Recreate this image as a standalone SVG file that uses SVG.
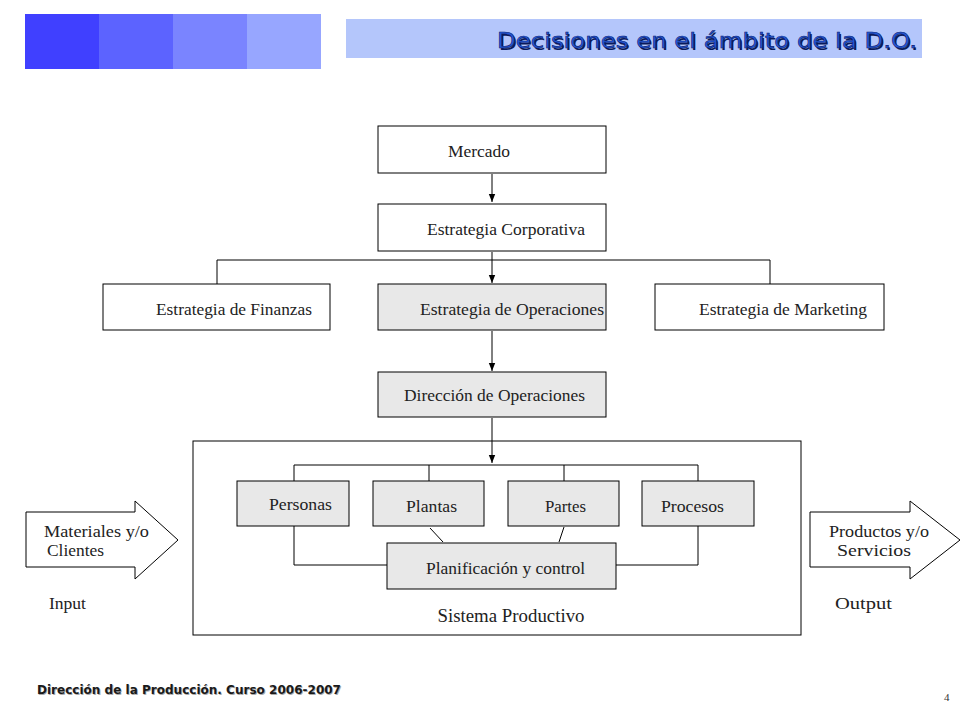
<svg xmlns="http://www.w3.org/2000/svg" width="960" height="720" viewBox="0 0 960 720">
<style>
.box{fill:#ffffff;stroke:#000;stroke-width:1}
.gray{fill:#e8e8e8;stroke:#000;stroke-width:1}
.t{font-family:"Liberation Serif","Times New Roman",serif;font-size:17px;fill:#222}
.ln{fill:none;stroke:#000;stroke-width:1}
</style>
<defs>
<marker id="ah" viewBox="0 0 10 10" refX="10" refY="5" markerWidth="8" markerHeight="8" orient="auto" markerUnits="userSpaceOnUse">
<path d="M0,1 L10,5 L0,9 z" fill="#000"/>
</marker>
</defs>
<rect width="960" height="720" fill="#fff"/>
<g id="header">
<rect x="25" y="14" width="74" height="55" fill="#4040ff"/>
<rect x="99" y="14" width="74" height="55" fill="#5c63ff"/>
<rect x="173" y="14" width="74" height="55" fill="#7a84ff"/>
<rect x="247" y="14" width="74" height="55" fill="#97a6ff"/>
<rect x="346" y="19" width="576" height="39" fill="#b4c6fb"/>
<text x="918.5" y="49.5" text-anchor="end" font-family="DejaVu Sans, Verdana, sans-serif" font-size="21" fill="#0a1a5a" textLength="420" lengthAdjust="spacingAndGlyphs">Decisiones en el ámbito de la D.O.</text>
<text x="917" y="48" text-anchor="end" font-family="DejaVu Sans, Verdana, sans-serif" font-size="21" fill="#2458d8" stroke="#0a2070" stroke-width="0.6" textLength="420" lengthAdjust="spacingAndGlyphs">Decisiones en el ámbito de la D.O.</text>
</g>
<g id="sistema">
<rect class="box" x="193" y="441" width="608" height="194"/>
<text class="t" x="511" y="622" text-anchor="middle" style="font-size:19px" textLength="147" lengthAdjust="spacingAndGlyphs">Sistema Productivo</text>
</g>
<g id="connectors">
<line class="ln" x1="492" y1="174" x2="492" y2="202" marker-end="url(#ah)"/>
<line class="ln" x1="492" y1="252" x2="492" y2="283" marker-end="url(#ah)"/>
<polyline class="ln" points="217,284 217,260 770,260 770,284"/>
<line class="ln" x1="492" y1="331" x2="492" y2="371" marker-end="url(#ah)"/>
<line class="ln" x1="492" y1="418" x2="492" y2="463" marker-end="url(#ah)"/>
<line class="ln" x1="294" y1="465" x2="698" y2="465"/>
<line class="ln" x1="294" y1="465" x2="294" y2="481"/>
<line class="ln" x1="429" y1="465" x2="429" y2="481"/>
<line class="ln" x1="564" y1="465" x2="564" y2="481"/>
<line class="ln" x1="698" y1="465" x2="698" y2="481"/>
<polyline class="ln" points="294,526 294,565 387,565"/>
<polyline class="ln" points="698,526 698,565 616,565"/>
<line class="ln" x1="430" y1="528" x2="443" y2="542"/>
<line class="ln" x1="564" y1="527" x2="559" y2="542"/>
</g>
<g id="mercado">
<rect class="box" x="378" y="126" width="228" height="47"/>
<text class="t" x="448" y="157" textLength="62" lengthAdjust="spacingAndGlyphs">Mercado</text>
</g>
<g id="corporativa">
<rect class="box" x="378" y="204" width="228" height="47"/>
<text class="t" x="427" y="235" textLength="158" lengthAdjust="spacingAndGlyphs">Estrategia Corporativa</text>
</g>
<g id="finanzas">
<rect class="box" x="103" y="284" width="227" height="46"/>
<text class="t" x="156" y="315" textLength="156" lengthAdjust="spacingAndGlyphs">Estrategia de Finanzas</text>
</g>
<g id="operaciones">
<rect class="gray" x="378" y="284" width="228" height="46"/>
<text class="t" x="420" y="315" textLength="184" lengthAdjust="spacingAndGlyphs">Estrategia de Operaciones</text>
</g>
<g id="marketing">
<rect class="box" x="655" y="284" width="229" height="46"/>
<text class="t" x="699" y="315" textLength="168" lengthAdjust="spacingAndGlyphs">Estrategia de Marketing</text>
</g>
<g id="direccion">
<rect class="gray" x="378" y="372" width="228" height="45"/>
<text class="t" x="404" y="401" textLength="181" lengthAdjust="spacingAndGlyphs">Dirección de Operaciones</text>
</g>
<g id="personas">
<rect class="gray" x="237" y="481" width="112" height="45"/>
<text class="t" x="269" y="510" textLength="63" lengthAdjust="spacingAndGlyphs">Personas</text>
</g>
<g id="plantas">
<rect class="gray" x="373" y="481" width="111" height="45"/>
<text class="t" x="406" y="512" textLength="51" lengthAdjust="spacingAndGlyphs">Plantas</text>
</g>
<g id="partes">
<rect class="gray" x="508" y="481" width="111" height="45"/>
<text class="t" x="545" y="512" textLength="41" lengthAdjust="spacingAndGlyphs">Partes</text>
</g>
<g id="procesos">
<rect class="gray" x="642" y="481" width="112" height="45"/>
<text class="t" x="661" y="512" textLength="63" lengthAdjust="spacingAndGlyphs">Procesos</text>
</g>
<g id="planificacion">
<rect class="gray" x="387" y="543" width="229" height="46"/>
<text class="t" x="426" y="574" textLength="159" lengthAdjust="spacingAndGlyphs">Planificación y control</text>
</g>
<g id="input">
<polygon class="box" points="26,512 135,512 135,501 178,540 135,579 135,567 26,567"/>
<text class="t" x="44" y="537" textLength="105" lengthAdjust="spacingAndGlyphs">Materiales y/o</text>
<text class="t" x="47" y="556" textLength="57" lengthAdjust="spacingAndGlyphs">Clientes</text>
<text class="t" x="49" y="609" textLength="37" lengthAdjust="spacingAndGlyphs">Input</text>
</g>
<g id="output">
<polygon class="box" points="810,512 910,512 910,501 960,540 910,579 910,567 810,567"/>
<text class="t" x="829" y="537" textLength="100" lengthAdjust="spacingAndGlyphs">Productos y/o</text>
<text class="t" x="837" y="556" textLength="74" lengthAdjust="spacingAndGlyphs">Servicios</text>
<text class="t" x="835" y="609" textLength="57" lengthAdjust="spacingAndGlyphs">Output</text>
</g>
<g id="footer">
<text x="37.8" y="694.8" font-family="DejaVu Sans Condensed, DejaVu Sans, sans-serif" font-size="12" font-weight="bold" fill="#aaa" textLength="304" lengthAdjust="spacingAndGlyphs">Dirección de la Producción. Curso 2006-2007</text>
<text x="37" y="694" font-family="DejaVu Sans Condensed, DejaVu Sans, sans-serif" font-size="12" font-weight="bold" fill="#1a1a1a" textLength="304" lengthAdjust="spacingAndGlyphs">Dirección de la Producción. Curso 2006-2007</text>
<text x="944" y="701" font-family="Liberation Serif, serif" font-size="11" fill="#333">4</text>
</g>
</svg>
